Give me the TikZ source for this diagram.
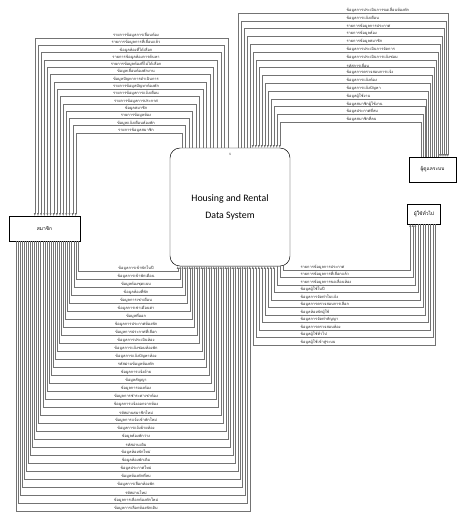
\documentclass[tikz,border=0pt]{standalone}
\usepackage{fontspec}
\setmainfont{Carlito}
\newfontfamily\thaifont[Script=Thai]{Loma}
\usetikzlibrary{arrows,calc}

\begin{document}
\begin{tikzpicture}[x=0.5mm,y=-0.5mm]

\tikzset{entity/.style = {shape=rectangle,draw,line width=0.5pt,font=\thaifont\fontsize{7}{8}\selectfont}}
\tikzset{process/.style = {shape=rectangle,draw,line width=0.7pt,rounded corners=5mm,align=center,font=\fontsize{14}{24}\selectfont}}
\tikzset{flow/.style = {draw=black!55,line width=0.35pt}}
\tikzset{toend/.style = {flow,->,> = latex'}}
\tikzset{tostart/.style = {flow,<-,> = latex'}}
\tikzset{lbl/.style = {font=\thaifont\fontsize{5.6}{6}\selectfont,text=black!85,inner sep=0.6pt,anchor=south}}
\tikzset{lblw/.style = {lbl,anchor=south west}}

\useasboundingbox (0,0) rectangle (457,518);

%entities
\node[entity, minimum width=35.5mm, minimum height=12.5mm] (mem) at (44.5,228.5) {สมาชิก};
\node[entity, minimum width=23.5mm, minimum height=12.5mm] (adm) at (432.5,169.5) {ผู้ดูแลระบบ};
\node[entity, minimum width=16.5mm, minimum height=10mm] (usr) at (424,214) {ผู้ใช้ทั่วไป};
%process
\node[process, minimum width=60mm, minimum height=59mm] (proc) at (230,207) {Housing and Rental\\Data System};
\node[font=\fontsize{5}{5}\selectfont, inner sep=0pt] (pnum) at (230,154) {1};

%connection points
\foreach \i in {1,...,14} {
  \coordinate (mt\i) at ($(mem.north west)+({22.85+3.15*\i},0)$);
  \coordinate (pt\i) at ($(proc.north west)+({61.54-3.54*\i},0)$);
}
\foreach \j in {1,...,15} {
  \coordinate (qt\j) at ($(proc.north west)+({65+3*\j},0)$);
  \coordinate (at\j) at ($(adm.north west)+({40.93-1.93*\j},0)$);
}
\foreach \k in {1,...,11} {
  \coordinate (rb\k) at ($(proc.south west)+({116-3*\k},0)$);
  \coordinate (ub\k) at ($(usr.south west)+({0.5+2.5*\k},0)$);
}
\foreach \k in {1,...,31} {
  \coordinate (mb\k) at ($(mem.south west)+({71.07-2.07*\k},0)$);
  \coordinate (pb\k) at ($(proc.south west)+({5.6+2.4*\k},0)$);
}

%process -> member
\draw[toend] (pt1) -- (pt1 |- 0,38) -| (mt1) node[lbl] (tl1) at (136,38) {รายการข้อมูลการเลื่อนห้อง};
\draw[toend] (pt2) -- (pt2 |- 0,45.3) -| (mt2) node[lbl] (tl2) at (136,45.3) {รายการข้อมูลการที่เลื่อนแล้ว};
\draw[toend] (pt3) -- (pt3 |- 0,52.6) -| (mt3) node[lbl] (tl3) at (136,52.6) {ข้อมูลห้องที่ได้เลือก};
\draw[toend] (pt4) -- (pt4 |- 0,59.9) -| (mt4) node[lbl] (tl4) at (136,59.9) {รายการข้อมูลห้องการค้นหา};
\draw[toend] (pt5) -- (pt5 |- 0,67.2) -| (mt5) node[lbl] (tl5) at (136,67.2) {รายการข้อมูลห้องที่ไม่ได้เลือก};
\draw[toend] (pt6) -- (pt6 |- 0,74.5) -| (mt6) node[lbl] (tl6) at (136,74.5) {ข้อมูลเลื่อนห้องพักงาน};
\draw[toend] (pt7) -- (pt7 |- 0,81.8) -| (mt7) node[lbl] (tl7) at (136,81.8) {ข้อมูลปัญหาการดำเนินการ};
\draw[toend] (pt8) -- (pt8 |- 0,89.1) -| (mt8) node[lbl] (tl8) at (136,89.1) {รายการข้อมูลปัญหาห้องพัก};
\draw[toend] (pt9) -- (pt9 |- 0,96.4) -| (mt9) node[lbl] (tl9) at (136,96.4) {รายการข้อมูลการแจ้งเตือน};
\draw[toend] (pt10) -- (pt10 |- 0,103.7) -| (mt10) node[lbl] (tl10) at (136,103.7) {รายการข้อมูลการประกาศ};
\draw[toend] (pt11) -- (pt11 |- 0,111) -| (mt11) node[lbl] (tl11) at (136,111) {ข้อมูลสมาชิก};
\draw[toend] (pt12) -- (pt12 |- 0,118.3) -| (mt12) node[lbl] (tl12) at (136,118.3) {รายการข้อมูลห้อง};
\draw[toend] (pt13) -- (pt13 |- 0,125.6) -| (mt13) node[lbl] (tl13) at (136,125.6) {ข้อมูลแจ้งเตือนห้องพัก};
\draw[toend] (pt14) -- (pt14 |- 0,132.9) -| (mt14) node[lbl] (tl14) at (136,132.9) {รายการข้อมูลสมาชิก};

%process <-> admin
\draw[toend] (qt1) -- (qt1 |- 0,13) -| (at1) node[lblw] (tr1) at (346,13) {ข้อมูลการประเมินการขอเลื่อนห้องพัก};
\draw[toend] (qt2) -- (qt2 |- 0,20.8) -| (at2) node[lblw] (tr2) at (346,20.8) {ข้อมูลการแจ้งเตือน};
\draw[toend] (qt3) -- (qt3 |- 0,28.6) -| (at3) node[lblw] (tr3) at (346,28.6) {รายการข้อมูลการประกาศ};
\draw[toend] (qt4) -- (qt4 |- 0,36.4) -| (at4) node[lblw] (tr4) at (346,36.4) {รายการข้อมูลห้อง};
\draw[toend] (qt5) -- (qt5 |- 0,44.2) -| (at5) node[lblw] (tr5) at (346,44.2) {รายการข้อมูลสมาชิก};
\draw[tostart] (qt6) -- (qt6 |- 0,52) -| (at6) node[lblw] (tr6) at (346,52) {ข้อมูลการประเมินการจัดการ};
\draw[tostart] (qt7) -- (qt7 |- 0,59.8) -| (at7) node[lblw] (tr7) at (346,59.8) {ข้อมูลการประเมินการแจ้งซ่อม};
\draw[tostart] (qt8) -- (qt8 |- 0,67.6) -| (at8) node[lblw] (tr8) at (346,67.6) {รหัสการเลื่อน};
\draw[tostart] (qt9) -- (qt9 |- 0,75.4) -| (at9) node[lblw] (tr9) at (346,75.4) {ข้อมูลการตรวจสอบการแจ้ง};
\draw[tostart] (qt10) -- (qt10 |- 0,83.2) -| (at10) node[lblw] (tr10) at (346,83.2) {ข้อมูลการแจ้งห้อง};
\draw[tostart] (qt11) -- (qt11 |- 0,91) -| (at11) node[lblw] (tr11) at (346,91) {ข้อมูลการแจ้งปัญหา};
\draw[tostart] (qt12) -- (qt12 |- 0,98.8) -| (at12) node[lblw] (tr12) at (346,98.8) {ข้อมูลผู้ใช้งาน};
\draw[tostart] (qt13) -- (qt13 |- 0,106.6) -| (at13) node[lblw] (tr13) at (346,106.6) {ข้อมูลสมาชิกผู้ใช้งาน};
\draw[tostart] (qt14) -- (qt14 |- 0,114.4) -| (at14) node[lblw] (tr14) at (346,114.4) {ข้อมูลประกาศที่ลบ};
\draw[tostart] (qt15) -- (qt15 |- 0,122.2) -| (at15) node[lblw] (tr15) at (346,122.2) {ข้อมูลสมาชิกที่ลบ};

%process <-> user
\draw[toend] (rb1) -- (rb1 |- 0,270) -| (ub1) node[lblw] (br1) at (300,270) {รายการข้อมูลการประกาศ};
\draw[toend] (rb2) -- (rb2 |- 0,277.5) -| (ub2) node[lblw] (br2) at (300,277.5) {รายการข้อมูลการที่เลือกแล้ว};
\draw[toend] (rb3) -- (rb3 |- 0,285) -| (ub3) node[lblw] (br3) at (300,285) {รายการข้อมูลการขอเลื่อนห้อง};
\draw[tostart] (rb4) -- (rb4 |- 0,292.5) -| (ub4) node[lblw] (br4) at (300,292.5) {ข้อมูลผู้ใช้ในปี};
\draw[tostart] (rb5) -- (rb5 |- 0,300) -| (ub5) node[lblw] (br5) at (300,300) {ข้อมูลการจัดทำใบแจ้ง};
\draw[tostart] (rb6) -- (rb6 |- 0,307.5) -| (ub6) node[lblw] (br6) at (300,307.5) {ข้อมูลการตรวจสอบการเลือก};
\draw[tostart] (rb7) -- (rb7 |- 0,315) -| (ub7) node[lblw] (br7) at (300,315) {ข้อมูลห้องพักผู้ใช้};
\draw[tostart] (rb8) -- (rb8 |- 0,322.5) -| (ub8) node[lblw] (br8) at (300,322.5) {ข้อมูลการจัดทำสัญญา};
\draw[tostart] (rb9) -- (rb9 |- 0,330) -| (ub9) node[lblw] (br9) at (300,330) {ข้อมูลการตรวจสอบห้อง};
\draw[tostart] (rb10) -- (rb10 |- 0,337.5) -| (ub10) node[lblw] (br10) at (300,337.5) {ข้อมูลผู้ใช้ทั่วไป};
\draw[tostart] (rb11) -- (rb11 |- 0,345) -| (ub11) node[lblw] (br11) at (300,345) {ข้อมูลผู้ใช้เข้าสู่ระบบ};

%member -> process
\draw[toend] (mb1) -- (mb1 |- 0,271) -| (pb1) node[lbl] (bl1) at (136,271) {ข้อมูลการเข้าพักในปี};
\draw[toend] (mb2) -- (mb2 |- 0,279) -| (pb2) node[lbl] (bl2) at (136,279) {ข้อมูลการเข้าพักเดือน};
\draw[toend] (mb3) -- (mb3 |- 0,287) -| (pb3) node[lbl] (bl3) at (136,287) {ข้อมูลห้องชุดแบบ};
\draw[toend] (mb4) -- (mb4 |- 0,295) -| (pb4) node[lbl] (bl4) at (136,295) {ข้อมูลห้องที่พัก};
\draw[toend] (mb5) -- (mb5 |- 0,303) -| (pb5) node[lbl] (bl5) at (136,303) {ข้อมูลการเช่าเดือน};
\draw[toend] (mb6) -- (mb6 |- 0,311) -| (pb6) node[lbl] (bl6) at (136,311) {ข้อมูลการเช่าเดือนค่า};
\draw[toend] (mb7) -- (mb7 |- 0,319) -| (pb7) node[lbl] (bl7) at (136,319) {ข้อมูลที่ออก};
\draw[toend] (mb8) -- (mb8 |- 0,327) -| (pb8) node[lbl] (bl8) at (136,327) {ข้อมูลการประกาศห้องพัก};
\draw[toend] (mb9) -- (mb9 |- 0,335) -| (pb9) node[lbl] (bl9) at (136,335) {ข้อมูลการประกาศที่เลือก};
\draw[toend] (mb10) -- (mb10 |- 0,343) -| (pb10) node[lbl] (bl10) at (136,343) {ข้อมูลการประเมินห้อง};
\draw[toend] (mb11) -- (mb11 |- 0,351) -| (pb11) node[lbl] (bl11) at (136,351) {ข้อมูลการแจ้งซ่อมห้องพัก};
\draw[toend] (mb12) -- (mb12 |- 0,359) -| (pb12) node[lbl] (bl12) at (136,359) {ข้อมูลการแจ้งปัญหาห้อง};
\draw[toend] (mb13) -- (mb13 |- 0,367) -| (pb13) node[lbl] (bl13) at (136,367) {รหัสผ่านข้อมูลห้องพัก};
\draw[toend] (mb14) -- (mb14 |- 0,375) -| (pb14) node[lbl] (bl14) at (136,375) {ข้อมูลการแจ้งย้าย};
\draw[toend] (mb15) -- (mb15 |- 0,383) -| (pb15) node[lbl] (bl15) at (136,383) {ข้อมูลสัญญา};
\draw[toend] (mb16) -- (mb16 |- 0,391) -| (pb16) node[lbl] (bl16) at (136,391) {ข้อมูลการจองห้อง};
\draw[toend] (mb17) -- (mb17 |- 0,399) -| (pb17) node[lbl] (bl17) at (136,399) {ข้อมูลการชำระค่าเช่าห้อง};
\draw[toend] (mb18) -- (mb18 |- 0,407) -| (pb18) node[lbl] (bl18) at (136,407) {ข้อมูลการแจ้งออกจากห้อง};
\draw[toend] (mb19) -- (mb19 |- 0,415) -| (pb19) node[lbl] (bl19) at (136,415) {รหัสผ่านสมาชิกใหม่};
\draw[toend] (mb20) -- (mb20 |- 0,423) -| (pb20) node[lbl] (bl20) at (136,423) {ข้อมูลการแจ้งเข้าพักใหม่};
\draw[toend] (mb21) -- (mb21 |- 0,431) -| (pb21) node[lbl] (bl21) at (136,431) {ข้อมูลการแจ้งย้ายห้อง};
\draw[toend] (mb22) -- (mb22 |- 0,439) -| (pb22) node[lbl] (bl22) at (136,439) {ข้อมูลห้องพักว่าง};
\draw[toend] (mb23) -- (mb23 |- 0,447) -| (pb23) node[lbl] (bl23) at (136,447) {รหัสผ่านเดิม};
\draw[toend] (mb24) -- (mb24 |- 0,455) -| (pb24) node[lbl] (bl24) at (136,455) {ข้อมูลห้องพักใหม่};
\draw[toend] (mb25) -- (mb25 |- 0,463) -| (pb25) node[lbl] (bl25) at (136,463) {ข้อมูลห้องพักเดิม};
\draw[toend] (mb26) -- (mb26 |- 0,471) -| (pb26) node[lbl] (bl26) at (136,471) {ข้อมูลประกาศใหม่};
\draw[toend] (mb27) -- (mb27 |- 0,479) -| (pb27) node[lbl] (bl27) at (136,479) {ข้อมูลห้องพักที่ลบ};
\draw[toend] (mb28) -- (mb28 |- 0,487) -| (pb28) node[lbl] (bl28) at (136,487) {ข้อมูลการเลือกห้องพัก};
\draw[toend] (mb29) -- (mb29 |- 0,495) -| (pb29) node[lbl] (bl29) at (136,495) {รหัสผ่านใหม่};
\draw[toend] (mb30) -- (mb30 |- 0,503) -| (pb30) node[lbl] (bl30) at (136,503) {ข้อมูลการเลือกห้องพักใหม่};
\draw[toend] (mb31) -- (mb31 |- 0,511) -| (pb31) node[lbl] (bl31) at (136,511) {ข้อมูลการเลือกห้องพักเดิม};

\end{tikzpicture}
\end{document}
